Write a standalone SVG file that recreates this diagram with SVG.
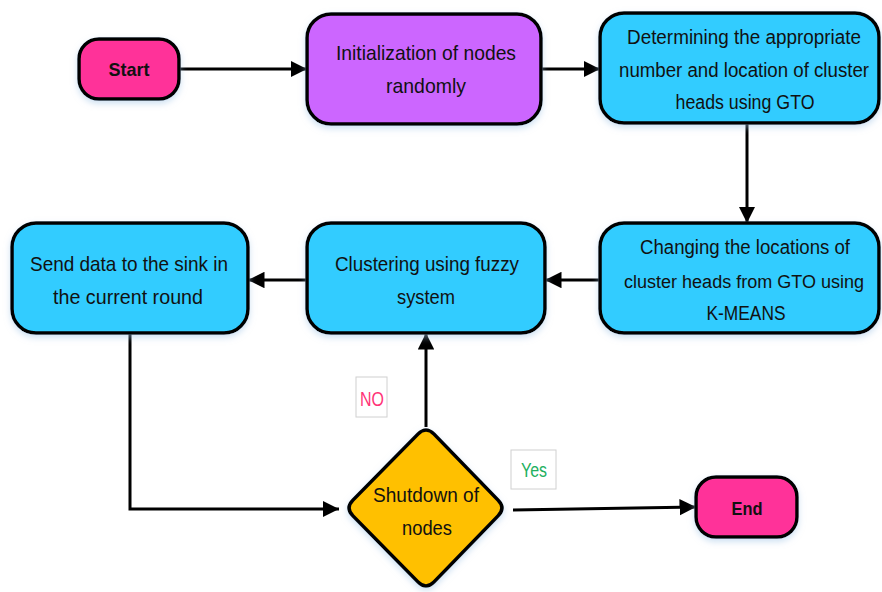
<svg xmlns="http://www.w3.org/2000/svg" width="882" height="592" viewBox="0 0 882 592">
<style>
.box{stroke:#000;stroke-width:3.5;filter:url(#sh)}
.t{font-family:"Liberation Sans",Arial,sans-serif;font-size:21px;fill:#111;text-anchor:middle}
.r{font-size:19.5px}
.s{font-size:18px}
.b{font-weight:bold;font-size:19px}
.c{fill:none;stroke:#000;stroke-width:3}
.lbl{fill:#fff;stroke:#d0d0d0;stroke-width:1}
</style>
<defs>
<marker id="ah" viewBox="0 0 10 10" refX="10" refY="5" markerWidth="5.5" markerHeight="5.5" orient="auto" markerUnits="strokeWidth">
<path d="M0,0 L10,5 L0,10 z" fill="#000"/>
</marker>
<filter id="sh" x="-10%" y="-10%" width="120%" height="130%">
<feDropShadow dx="0" dy="3" stdDeviation="3" flood-color="#9ec3e6" flood-opacity="0.5"/>
</filter>
</defs>
<g id="connectors">
<line class="c" x1="180" y1="69" x2="307" y2="69" marker-end="url(#ah)"/>
<line class="c" x1="541" y1="69" x2="600" y2="69" marker-end="url(#ah)"/>
<line class="c" x1="747" y1="124" x2="747" y2="223" marker-end="url(#ah)"/>
<line class="c" x1="600" y1="280" x2="545" y2="280" marker-end="url(#ah)"/>
<line class="c" x1="307" y1="280" x2="248" y2="280" marker-end="url(#ah)"/>
<polyline class="c" points="130,334 130,509 339,509" marker-end="url(#ah)"/>
<line class="c" x1="426" y1="427" x2="426" y2="333" marker-end="url(#ah)"/>
<line class="c" x1="513" y1="510" x2="696" y2="507" marker-end="url(#ah)"/>
</g>
<g id="start">
<rect class="box" x="79" y="39" width="100" height="60" rx="20" fill="#FF3399"/>
<text class="t b" x="129" y="76" textLength="41" lengthAdjust="spacingAndGlyphs">Start</text>
</g>
<g id="init">
<rect class="box" x="307" y="14" width="234" height="110" rx="24" fill="#CC66FF"/>
<text class="t" x="426" y="60" textLength="180" lengthAdjust="spacingAndGlyphs">Initialization of nodes</text>
<text class="t" x="426" y="93" textLength="80" lengthAdjust="spacingAndGlyphs">randomly</text>
</g>
<g id="determine">
<rect class="box" x="600" y="13" width="279" height="110" rx="24" fill="#33CCFF"/>
<text class="t r" x="744" y="44" textLength="234" lengthAdjust="spacingAndGlyphs">Determining the appropriate</text>
<text class="t r" x="744" y="77" textLength="250" lengthAdjust="spacingAndGlyphs">number and location of cluster</text>
<text class="t r" x="745" y="109" textLength="139" lengthAdjust="spacingAndGlyphs">heads using GTO</text>
</g>
<g id="changing">
<rect class="box" x="600" y="223" width="279" height="110" rx="24" fill="#33CCFF"/>
<text class="t r" x="745" y="254" textLength="210" lengthAdjust="spacingAndGlyphs">Changing the locations of</text>
<text class="t r" x="744" y="288" textLength="240" lengthAdjust="spacingAndGlyphs" style="font-size:18px">cluster heads from GTO using</text>
<text class="t r" x="746" y="320" textLength="79" lengthAdjust="spacingAndGlyphs">K-MEANS</text>
</g>
<g id="clustering">
<rect class="box" x="307" y="223" width="238" height="110" rx="24" fill="#33CCFF"/>
<text class="t" x="427" y="271" textLength="184" lengthAdjust="spacingAndGlyphs">Clustering using fuzzy</text>
<text class="t" x="426" y="304" textLength="58" lengthAdjust="spacingAndGlyphs">system</text>
</g>
<g id="send">
<rect class="box" x="12" y="223" width="236" height="110" rx="24" fill="#33CCFF"/>
<text class="t" x="129" y="271" textLength="198" lengthAdjust="spacingAndGlyphs">Send data to the sink in</text>
<text class="t" x="128" y="304" textLength="150" lengthAdjust="spacingAndGlyphs">the current round</text>
</g>
<g id="shutdown">
<path class="box" d="M418,434 Q426,426 434,434 L498,500 Q506,508 498,516 L434,582 Q426,590 418,582 L353,516 Q345,508 353,500 Z" fill="#FFC000"/>
<text class="t" x="426" y="502" textLength="106" lengthAdjust="spacingAndGlyphs">Shutdown of</text>
<text class="t" x="427" y="535" textLength="50" lengthAdjust="spacingAndGlyphs">nodes</text>
</g>
<g id="end">
<rect class="box" x="696" y="477" width="101" height="60" rx="20" fill="#FF3399"/>
<text class="t b" x="747" y="515" textLength="31" lengthAdjust="spacingAndGlyphs">End</text>
</g>
<g id="label-no">
<rect class="lbl" x="356" y="377" width="31" height="40"/>
<text class="t" x="372" y="406" style="fill:#FF3377;font-size:20px" textLength="24" lengthAdjust="spacingAndGlyphs">NO</text>
</g>
<g id="label-yes">
<rect class="lbl" x="511" y="450" width="45" height="39"/>
<text class="t" x="534" y="477" style="fill:#22B060;font-size:20px" textLength="26" lengthAdjust="spacingAndGlyphs">Yes</text>
</g>
</svg>
